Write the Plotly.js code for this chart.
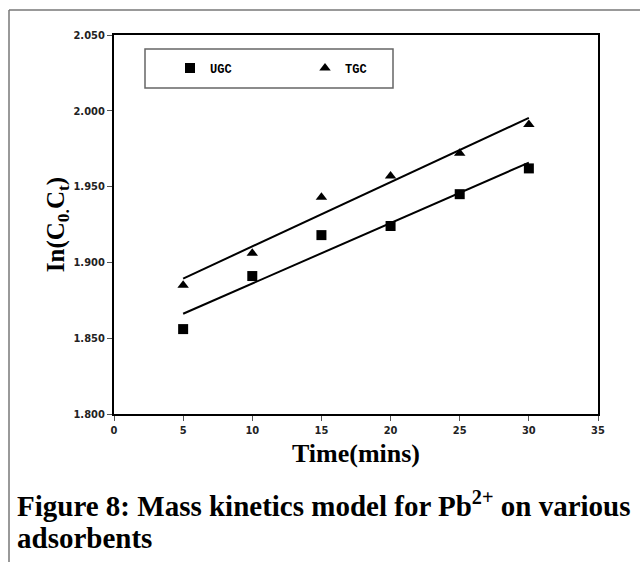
<!DOCTYPE html>
<html>
<head>
<meta charset="utf-8">
<script src="https://cdn.plot.ly/plotly-3.0.1.min.js"></script>
<style>
  html, body { margin: 0; padding: 0; background: #fff; }
  #chart { width: 640px; height: 562px; }
</style>
</head>
<body>
<div id="chart"></div>
<script>
// ---- data ----
const timeMins = [5, 10, 15, 20, 25, 30];
const ugcValues = [1.856, 1.891, 1.918, 1.924, 1.945, 1.962];
const tgcValues = [1.885, 1.906, 1.943, 1.957, 1.972, 1.991];
const seriesNames = ['UGC', 'TGC'];
const xTickVals = [0, 5, 10, 15, 20, 25, 30, 35];
const yTickVals = [1.80, 1.85, 1.90, 1.95, 2.00, 2.05];

// linear least-squares trend line (as the spreadsheet trendline)
function linFit(xs, ys) {
  const n = xs.length;
  const mx = xs.reduce((a, b) => a + b, 0) / n;
  const my = ys.reduce((a, b) => a + b, 0) / n;
  let sxy = 0, sxx = 0;
  for (let i = 0; i < n; i++) { sxy += (xs[i] - mx) * (ys[i] - my); sxx += (xs[i] - mx) ** 2; }
  const m = sxy / sxx, b = my - m * mx;
  return xs.map(x => m * x + b);
}

const tickFont = { family: 'Liberation Sans Narrow, DejaVu Sans Condensed, Arial Narrow, sans-serif', size: 11, color: '#222', weight: 'bold' };
const serifBold = { family: 'Liberation Serif, Times New Roman, serif', color: '#000', weight: 'bold' };

const traces = [
  { x: timeMins, y: linFit(timeMins, ugcValues), mode: 'lines', line: { color: '#000', width: 2 }, showlegend: false, hoverinfo: 'skip' },
  { x: timeMins, y: linFit(timeMins, tgcValues), mode: 'lines', line: { color: '#000', width: 2 }, showlegend: false, hoverinfo: 'skip' },
  { x: timeMins, y: ugcValues, name: seriesNames[0], mode: 'markers', marker: { symbol: 'square', size: 10, color: '#000' } },
  { x: timeMins, y: tgcValues, name: seriesNames[1], mode: 'markers', marker: { symbol: 'triangle-up', size: 10, color: '#000' } }
];

const L = 114, R = 42, T = 35, B = 148;
const W = 640 - L - R, H = 562 - T - B;
const px = v => (v - L) / W;
const py = v => (562 - B - v) / H;

const layout = {
  width: 640, height: 562,
  margin: { l: L, r: R, t: T, b: B },
  paper_bgcolor: '#fff', plot_bgcolor: '#fff',
  showlegend: true,
  legend: {
    orientation: 'h', x: px(170), y: py(68), xanchor: 'left', yanchor: 'middle',
    bgcolor: 'rgba(0,0,0,0)', borderwidth: 0,
    entrywidth: 90, entrywidthmode: 'pixels',
    font: { family: 'Liberation Mono, DejaVu Sans Mono, monospace', size: 12, color: '#000', weight: 'bold' },
    itemwidth: 30, tracegroupgap: 0
  },
  xaxis: {
    range: [0, 35], tickvals: xTickVals, ticktext: xTickVals.map(String),
    showgrid: false, zeroline: false,
    showline: true, linecolor: '#000', linewidth: 2, mirror: true,
    ticks: 'outside', ticklen: 5, tickwidth: 1, tickcolor: '#555',
    tickfont: tickFont,
    title: { text: 'Time(mins)', font: Object.assign({ size: 26 }, serifBold), standoff: 8 }
  },
  yaxis: {
    range: [1.80, 2.05], tickvals: yTickVals, ticktext: yTickVals.map(v => v.toFixed(3)),
    showgrid: false, zeroline: false,
    showline: true, linecolor: '#000', linewidth: 2, mirror: true,
    ticks: 'outside', ticklen: 5, tickwidth: 1, tickcolor: '#555',
    tickfont: tickFont,
    title: { text: 'In(C<sub>0.</sub>C<sub>t</sub>)', font: Object.assign({ size: 25 }, serifBold), standoff: 2 }
  },
  shapes: [
    { type: 'rect', xref: 'paper', yref: 'paper', x0: px(145), x1: px(393), y0: py(88), y1: py(49),
      line: { color: '#666', width: 1.5 }, fillcolor: 'rgba(0,0,0,0)', layer: 'below' },
    { type: 'line', xref: 'paper', yref: 'paper', x0: px(9), x1: px(660), y0: py(10), y1: py(10),
      line: { color: '#777', width: 1.5 } },
    { type: 'line', xref: 'paper', yref: 'paper', x0: px(9), x1: px(9), y0: py(10), y1: py(580),
      line: { color: '#777', width: 1.5 } }
  ],
  annotations: [
    { xref: 'paper', yref: 'paper', x: px(15), y: py(504), xanchor: 'left', yanchor: 'middle', showarrow: false,
      text: 'Figure 8: Mass kinetics model for Pb<sup>2+</sup> on various', font: Object.assign({ size: 29 }, serifBold) },
    { xref: 'paper', yref: 'paper', x: px(15), y: py(538), xanchor: 'left', yanchor: 'middle', showarrow: false,
      text: 'adsorbents', font: Object.assign({ size: 29 }, serifBold) }
  ]
};

Plotly.newPlot('chart', traces, layout, { displayModeBar: false, staticPlot: true });
</script>
</body>
</html>
